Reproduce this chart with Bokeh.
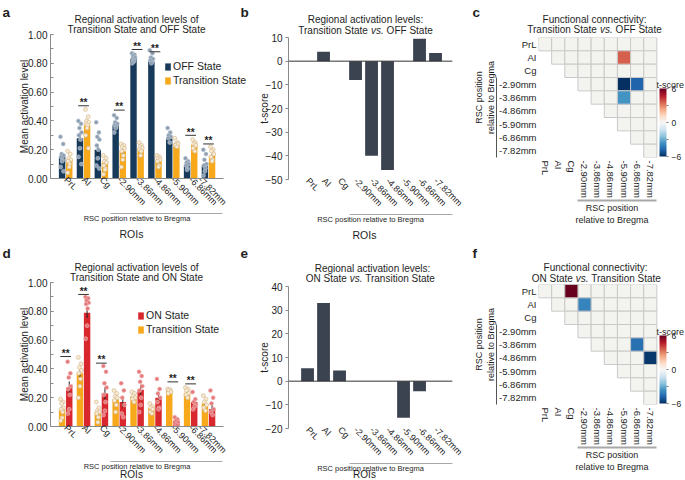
import math
import numpy as np
from bokeh.plotting import figure
from bokeh.models import (Range1d, LinearAxis, Label, Span, ColorBar, LinearColorMapper,
                          FixedTicker, SingleIntervalTicker, Legend, LegendItem,
                          ColumnDataSource, PrintfTickFormatter, GridBox)
from bokeh.embed import file_html
from bokeh.resources import INLINE
from bokeh.core.properties import value

# ---------------- data ----------------
rois = ["PrL", "AI", "Cg", "-2.90mm", "-3.86mm", "-4.86mm", "-5.90mm", "-6.86mm", "-7.82mm"]

# panel a: OFF state vs Transition state
off_mean = [0.15, 0.28, 0.20, 0.37, 0.83, 0.81, 0.28, 0.09, 0.085]
trans_a_mean = [0.13, 0.37, 0.11, 0.19, 0.21, 0.13, 0.24, 0.235, 0.16]
off_dots = [
    [0.29, 0.24, 0.17, 0.16, 0.15, 0.13, 0.12, 0.08, 0.05],
    [0.40, 0.38, 0.35, 0.32, 0.30, 0.27, 0.21, 0.15, 0.10],
    [0.39, 0.32, 0.29, 0.27, 0.23, 0.20, 0.14, 0.09, 0.07],
    [0.44, 0.42, 0.39, 0.38, 0.37, 0.36, 0.35, 0.32],
    [0.87, 0.86, 0.85, 0.84, 0.83, 0.82, 0.81, 0.80],
    [0.89, 0.87, 0.84, 0.83, 0.82, 0.81, 0.80],
    [0.35, 0.32, 0.30, 0.29, 0.28, 0.25],
    [0.14, 0.12, 0.11, 0.10, 0.09, 0.07, 0.06],
    [0.20, 0.17, 0.13, 0.10, 0.09, 0.07, 0.05, 0.02],
]
trans_a_dots = [
    [0.19, 0.17, 0.14, 0.13, 0.12, 0.10, 0.08, 0.04],
    [0.48, 0.43, 0.40, 0.39, 0.38, 0.37, 0.35, 0.30, 0.21],
    [0.16, 0.14, 0.12, 0.11, 0.09, 0.07, 0.06, 0.03],
    [0.24, 0.23, 0.22, 0.21, 0.19, 0.16, 0.13, 0.08],
    [0.25, 0.23, 0.22, 0.21, 0.20, 0.19, 0.16],
    [0.16, 0.15, 0.14, 0.13, 0.12, 0.09, 0.08],
    [0.28, 0.25, 0.24, 0.24, 0.23, 0.22],
    [0.27, 0.25, 0.24, 0.23, 0.21, 0.19],
    [0.22, 0.20, 0.19, 0.17, 0.15, 0.13, 0.12],
]
sig_a_idx = [1, 3, 4, 5, 7, 8]
sig_a_level = [0.505, 0.475, 0.896, 0.88, 0.30, 0.24]

# panel b: t-scores Transition vs OFF
t_b = [0, 4, 0, -8, -40, -46, 0, 9.5, 3.5]

# panel c: connectivity Transition vs OFF (row, col, t)
conn_c_row = [1, 3, 3, 4]
conn_c_col = [6, 6, 7, 6]
conn_c_t = [3.6, -6.0, -4.8, -3.6]

# panel d: Transition vs ON
trans_d_mean = [0.12, 0.37, 0.10, 0.19, 0.21, 0.13, 0.25, 0.235, 0.16]
on_mean = [0.27, 0.79, 0.23, 0.17, 0.255, 0.20, 0.04, 0.17, 0.12]
trans_d_dots = [
    [0.19, 0.17, 0.16, 0.13, 0.12, 0.10, 0.06, 0.04],
    [0.48, 0.435, 0.41, 0.39, 0.37, 0.33, 0.28, 0.20],
    [0.17, 0.13, 0.11, 0.10, 0.09, 0.065, 0.03],
    [0.25, 0.23, 0.21, 0.20, 0.18, 0.15, 0.10],
    [0.24, 0.23, 0.21, 0.20, 0.19, 0.17],
    [0.16, 0.14, 0.13, 0.12, 0.10, 0.09],
    [0.26, 0.255, 0.25, 0.24, 0.23],
    [0.27, 0.26, 0.25, 0.23, 0.22, 0.20],
    [0.215, 0.19, 0.17, 0.15, 0.13, 0.11],
]
on_dots = [
    [0.45, 0.37, 0.34, 0.28, 0.26, 0.22, 0.12, 0.09],
    [0.90, 0.89, 0.875, 0.86, 0.85, 0.82, 0.70, 0.61],
    [0.42, 0.38, 0.30, 0.27, 0.22, 0.17, 0.11, 0.08],
    [0.30, 0.25, 0.20, 0.15, 0.09, 0.065],
    [0.38, 0.35, 0.31, 0.28, 0.25, 0.20, 0.15, 0.10],
    [0.33, 0.26, 0.23, 0.20, 0.17, 0.13, 0.12],
    [0.065, 0.05, 0.04, 0.03, 0.02, 0.01],
    [0.24, 0.19, 0.17, 0.15, 0.12, 0.14],
    [0.25, 0.20, 0.16, 0.12, 0.10, 0.08],
]
sig_d_idx = [0, 1, 2, 6, 7]
sig_d_level = [0.486, 0.917, 0.44, 0.31, 0.296]

# panel e: t-scores ON vs Transition
t_e = [5.5, 33, 4.5, 0, 0, 0, -15.5, -4.3, 0]

# panel f: connectivity ON vs Transition
conn_f_row = [0, 1, 4, 5]
conn_f_col = [2, 3, 7, 8]
conn_f_t = [6.0, -4.0, -4.5, -5.8]

# ---------------- style ----------------
FONT = "Liberation Sans"
TXT = "#1e1e1e"
NAVY = "#173a5a"
ORANGE = "#f7a81b"
RED = "#d8282e"
DOT_OFF = "#8d9fb3"
DOT_TR = "#fbead0"
DOT_TR_LINE = "#cdb68e"
DOT_ON = "#e47a7c"
BAR_T = "#3b4250"
AX = "#8a8a8a"
CELL = "#f3f4ef"
CELL_LINE = "#c9c9c9"
RDBU = ['#053061', '#2166ac', '#4393c3', '#92c5de', '#d1e5f0', '#f7f7f7',
        '#fddbc7', '#f4a582', '#d6604d', '#b2182b', '#67001f']


def interp_palette(stops, n):
    rgb = np.array([[int(s[i:i + 2], 16) for i in (1, 3, 5)] for s in stops], dtype=float)
    pos = np.linspace(0, 1, len(stops))
    out = []
    for tt in np.linspace(0, 1, n):
        c = [int(round(np.interp(tt, pos, rgb[:, k]))) for k in range(3)]
        out.append("#%02x%02x%02x" % tuple(c))
    return out


PAL = interp_palette(RDBU, 256)
EMW = {"Transition State": 7.003, "OFF State": 4.613, "ON State": 4.113}
JIT = [-0.09, 0.06, -0.03, 0.09, -0.06, 0.03, 0.0, -0.08, 0.08, 0.04]


def base_fig(w, h, left, top, right, bottom, xr, yr):
    p = figure(width=w, height=h, x_range=xr, y_range=yr, output_backend="svg",
               toolbar_location=None, x_axis_type=None, y_axis_type=None,
               min_border_left=left, min_border_right=right,
               min_border_top=top, min_border_bottom=bottom)
    p.frame_align = False
    p.outline_line_color = None
    p.background_fill_color = None
    p.border_fill_color = None
    return p


# overlay figure for free text and legends: data units == page pixels
ov = figure(width=685, height=480, x_range=Range1d(0, 685), y_range=Range1d(480, 0),
            output_backend="svg", toolbar_location=None, x_axis_type=None, y_axis_type=None,
            min_border=0)
ov.frame_align = False
ov.outline_line_color = None
ov.background_fill_color = None
ov.border_fill_color = None


def lab(X, Y, text, size=10, align="center", baseline="alphabetic", angle=0.0,
        style="normal", color=TXT):
    ov.add_layout(Label(x=X, y=Y, text=text, text_font=FONT, text_font_size="%.1fpx" % size,
                        text_align=align, text_baseline=baseline, angle=angle,
                        text_font_style=style, text_color=color))


def vs_line(cx, y, left, right, size=10):
    wl = EMW[left] * size
    wr = EMW[right] * size
    wv = 1.278 * size
    sp = 0.278 * size
    x0 = cx - (wl + wv + wr + 2 * sp) / 2
    lab(x0, y, left, size, align="left")
    lab(x0 + wl + sp, y, "vs.", size, align="left", style="italic")
    lab(x0 + wl + 2 * sp + wv, y, right, size, align="left")


def ov_legend(labels, colors, loc):
    # legend swatch renderers: one point placed outside the visible range
    rends = [ov.rect(x=[-100], y=[-100], width=1, height=1, fill_color=c, line_color=None)
             for c in colors]
    lg = Legend(items=[LegendItem(label=l, renderers=[r]) for l, r in zip(labels, rends)],
                location=loc, glyph_width=7, glyph_height=9, label_height=11, spacing=2,
                padding=0, margin=0, label_standoff=2, border_line_color=None,
                background_fill_alpha=0, label_text_font=FONT, label_text_font_size="10.5px",
                label_text_color=TXT)
    ov.add_layout(lg)


def style_axis(ax, size="10px"):
    ax.major_label_text_font = FONT
    ax.major_label_text_font_size = size
    ax.major_label_text_color = TXT
    ax.axis_label_text_font = FONT
    ax.axis_label_text_font_style = "normal"
    ax.axis_label_text_color = TXT


def bare(ax):
    ax.major_tick_out = 0
    ax.major_tick_in = 0
    ax.major_tick_line_color = None
    ax.minor_tick_line_color = None


def roi_axes(p, line_bounds, rsc_bounds, line_visible=True):
    ax1 = LinearAxis(ticker=FixedTicker(ticks=list(range(9))), bounds=line_bounds,
                     major_label_overrides={i: r for i, r in enumerate(rois)},
                     major_label_orientation=-math.pi / 4, major_label_standoff=0)
    style_axis(ax1, "9px")
    bare(ax1)
    ax1.axis_line_color = AX if line_visible else None
    p.add_layout(ax1, "below")
    ax2 = LinearAxis(bounds=rsc_bounds, ticker=FixedTicker(ticks=[]),
                     axis_label="RSC position relative to Bregma",
                     axis_label_standoff=0, major_label_standoff=0)
    style_axis(ax2)
    bare(ax2)
    ax2.axis_label_text_font_size = "7.5px"
    ax2.axis_line_color = "#a8a8a8"
    p.add_layout(ax2, "below")


def grouped_panel(p, left_mean, left_dots, left_col, left_dot, left_dot_line,
                  right_mean, right_dots, right_col, right_dot, right_dot_line,
                  sig_idx, sig_level):
    n = len(rois)
    for off, mean, dots, col, dcol, dline in (
            (-0.2, left_mean, left_dots, left_col, left_dot, left_dot_line),
            (0.2, right_mean, right_dots, right_col, right_dot, right_dot_line)):
        xs = [i + off for i in range(n)]
        p.vbar(x=xs, top=mean, width=0.36, fill_color=col, line_color=None)
        sem = [float(np.std(d, ddof=1) / np.sqrt(len(d))) for d in dots]
        p.segment(x0=xs, y0=[m - s for m, s in zip(mean, sem)], x1=xs,
                  y1=[m + s for m, s in zip(mean, sem)], line_color="#222222", line_width=1)
        dx, dy = [], []
        for i, d in enumerate(dots):
            for k, v in enumerate(d):
                dx.append(i + off + JIT[k % len(JIT)])
                dy.append(v)
        p.scatter(x=dx, y=dy, size=4.0, fill_color=dcol, line_color=dline, line_width=0.6)
    p.segment(x0=[i - 0.3 for i in sig_idx], y0=sig_level, x1=[i + 0.3 for i in sig_idx],
              y1=sig_level, line_color="#333333", line_width=1)
    p.text(x=sig_idx, y=[l + 0.022 for l in sig_level], text=["**"] * len(sig_idx),
           text_font=value(FONT), text_font_size="10px", text_font_style="bold",
           text_align="center", text_baseline="middle", text_color=TXT)
    ya = LinearAxis(ticker=SingleIntervalTicker(interval=0.2, num_minor_ticks=2),
                    formatter=PrintfTickFormatter(format="%.2f"), major_label_standoff=3)
    style_axis(ya, "10px")
    ya.axis_line_color = AX
    ya.major_tick_in = 3
    ya.major_tick_out = 0
    ya.minor_tick_in = 3
    ya.minor_tick_out = 0
    ya.major_tick_line_color = AX
    ya.minor_tick_line_color = AX
    p.add_layout(ya, "left")
    roi_axes(p, (-0.85, 8.84), (2.5, 8.8))


def tscore_panel(p, t, step):
    p.add_layout(Span(location=0, dimension="width", line_color="#333333", line_width=1))
    p.vbar(x=list(range(len(rois))), top=t, width=0.8, fill_color=BAR_T, line_color=None)
    ya = LinearAxis(ticker=SingleIntervalTicker(interval=step, num_minor_ticks=0),
                    major_label_standoff=3)
    style_axis(ya, "10px")
    ya.axis_line_color = AX
    ya.major_tick_in = 0
    ya.major_tick_out = 3
    ya.major_tick_line_color = AX
    ya.minor_tick_line_color = None
    p.add_layout(ya, "left")
    roi_axes(p, "auto", (2.6, 9.06), line_visible=False)


def conn_panel(p, rows, cols, ts):
    cx, cy = [], []
    for r in range(len(rois)):
        for c in range(r, len(rois)):
            cx.append(c)
            cy.append(r)
    p.rect(x=cx, y=cy, width=1, height=1, fill_color=CELL, line_color=CELL_LINE, line_width=1)
    mapper = LinearColorMapper(palette=PAL, low=-6, high=6)
    src = ColumnDataSource(dict(x=cols, y=rows, t=ts))
    p.rect(x="x", y="y", width=1, height=1, source=src,
           fill_color={"field": "t", "transform": mapper}, line_color=CELL_LINE, line_width=1)
    ay1 = LinearAxis(ticker=FixedTicker(ticks=list(range(9))),
                     major_label_overrides={i: r for i, r in enumerate(rois)},
                     major_label_standoff=2)
    style_axis(ay1, "9.5px")
    bare(ay1)
    ay1.axis_line_color = None
    p.add_layout(ay1, "left")
    ay2 = LinearAxis(bounds=(2.5, 8.5), ticker=FixedTicker(ticks=[]),
                     axis_label="RSC position\nrelative to Bregma", axis_label_standoff=1,
                     major_label_standoff=0)
    style_axis(ay2)
    bare(ay2)
    ay2.axis_label_text_font_size = "9px"
    ay2.axis_line_color = "#555555"
    p.add_layout(ay2, "left")
    ax1 = LinearAxis(ticker=FixedTicker(ticks=list(range(9))),
                     major_label_overrides={i: r for i, r in enumerate(rois)},
                     major_label_orientation="vertical", major_label_standoff=3)
    style_axis(ax1, "9.5px")
    bare(ax1)
    ax1.axis_line_color = None
    p.add_layout(ax1, "below")
    ax2 = LinearAxis(bounds=(2.5, 8.5), ticker=FixedTicker(ticks=[]),
                     axis_label="RSC position\nrelative to Bregma", axis_label_standoff=2,
                     major_label_standoff=0)
    style_axis(ax2)
    bare(ax2)
    ax2.axis_label_text_font_size = "9px"
    ax2.axis_line_color = "#a8a8a8"
    ax2.axis_line_width = 2
    p.add_layout(ax2, "below")
    cb = ColorBar(color_mapper=mapper, location=(121, 1), width=7, height=68, padding=0,
                  ticker=FixedTicker(ticks=[-6, 0, 6], minor_ticks=[-3, 3]),
                  major_label_text_font=FONT, major_label_text_font_size="8.5px",
                  major_label_text_color=TXT, label_standoff=3,
                  major_tick_in=0, major_tick_out=2, major_tick_line_color="#777777",
                  minor_tick_in=0, minor_tick_out=2, minor_tick_line_color="#777777",
                  bar_line_color=None, background_fill_alpha=0, border_line_color=None)
    p.add_layout(cb)


# ---------------- panels ----------------
pa = base_fig(228, 240, 50, 34, 5, 62, Range1d(-0.85, 8.84), Range1d(0, 1))
grouped_panel(pa, off_mean, off_dots, NAVY, DOT_OFF, "#b8c4d0",
              trans_a_mean, trans_a_dots, ORANGE, DOT_TR, DOT_TR_LINE,
              sig_a_idx, sig_a_level)

pb = base_fig(242, 240, 60, 37, 18, 61, Range1d(-1.19, 9.06), Range1d(-50, 10))
tscore_panel(pb, t_b, 10)

pc = base_fig(215, 240, 66, 37, 0, 83, Range1d(-0.5, 10.675), Range1d(8.5, -0.5))
conn_panel(pc, conn_c_row, conn_c_col, conn_c_t)

pd_ = base_fig(228, 240, 50, 42, 5, 54, Range1d(-0.85, 8.84), Range1d(0, 1))
grouped_panel(pd_, trans_d_mean, trans_d_dots, ORANGE, DOT_TR, DOT_TR_LINE,
              on_mean, on_dots, RED, DOT_ON, "#f0b0b0", sig_d_idx, sig_d_level)

pe = base_fig(242, 240, 60, 46, 18, 52, Range1d(-1.19, 9.06), Range1d(-20, 40))
tscore_panel(pe, t_e, 10)

pf = base_fig(215, 240, 66, 44, 0, 76, Range1d(-0.5, 10.675), Range1d(8.5, -0.5))
conn_panel(pf, conn_f_row, conn_f_col, conn_f_t)

# ---------------- free texts & legends (overlay) ----------------
ov_legend(["OFF State", "Transition State"], [NAVY, ORANGE], (164, 393.8))
ov_legend(["ON State", "Transition State"], [RED, ORANGE], (137, 145))

for letter, x, y in (("a", 2, 12), ("b", 240, 12), ("c", 472, 12),
                     ("d", 2, 253), ("e", 240, 253), ("f", 472, 253)):
    lab(x, y, letter, 13.5, align="left", style="bold")

lab(136, 18.5, "Regional activation levels of", 10)
lab(136, 28.5, "Transition State and OFF State", 10)
lab(23.5, 106, "Mean activation level", 10, angle=math.pi / 2, baseline="middle")
lab(131, 233.3, "ROIs", 10.5)

lab(365, 19, "Regional activation levels:", 10)
vs_line(365, 29.5, "Transition State", "OFF State")
lab(263.5, 108, "t-score", 10, angle=math.pi / 2, baseline="middle")
lab(364, 234.5, "ROIs", 10.5)

lab(594, 18.5, "Functional connectivity:", 10)
vs_line(594, 28.5, "Transition State", "OFF State")
lab(656, 84.5, "t-score", 9, align="left")

lab(136, 266.7, "Regional activation levels of", 10)
lab(136, 276.7, "Transition State and ON State", 10)
lab(23.5, 354, "Mean activation level", 10, angle=math.pi / 2, baseline="middle")
lab(131, 473.5, "ROIs", 10)

lab(372, 267.5, "Regional activation levels:", 10)
vs_line(370, 277.7, "ON State", "Transition State")
lab(263.5, 357, "t-score", 10, angle=math.pi / 2, baseline="middle")
lab(364, 473.5, "ROIs", 10)

lab(595, 267.3, "Functional connectivity:", 10)
vs_line(596, 277.5, "ON State", "Transition State")
lab(656, 331.5, "t-score", 9, align="left")

layout = GridBox(children=[(pa, 0, 0), (pb, 0, 1), (pc, 0, 2),
                           (pd_, 1, 0), (pe, 1, 1), (pf, 1, 2),
                           (ov, 0, 0, 2, 3)])
open("out.html", "w").write(file_html(layout, INLINE))
